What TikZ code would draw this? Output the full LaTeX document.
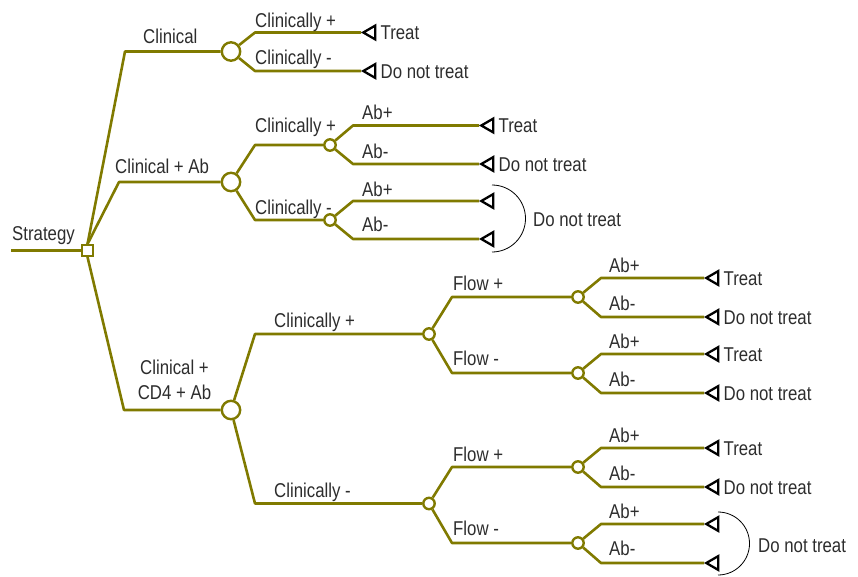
\documentclass[tikz,border=0pt]{standalone}
\usepackage{fontspec}
\setmainfont[FakeStretch=0.84]{Liberation Sans}
\usetikzlibrary{shapes.geometric, positioning}
\definecolor{branchcol}{RGB}{128,122,0}
\definecolor{textcol}{RGB}{45,45,45}
\tikzset{
        branch/.style={draw=branchcol, line width=2.6pt, line join=round},
        decision/.style={rectangle, draw=branchcol, fill=white, line width=2.4pt, minimum size=10.5pt, inner sep=0pt},
        chance/.style={circle, draw=branchcol, fill=white, line width=2.4pt, minimum size=18.4pt, inner sep=0pt},
        smallchance/.style={chance, minimum size=11.4pt},
        terminal/.style={regular polygon, regular polygon sides=3, shape border rotate=90, draw=black, fill=white, line width=2.3pt, line join=miter, minimum size=16pt, inner sep=0pt, anchor=corner 1},
        lbl/.style={text=textcol, inner sep=0pt, anchor=west, text height=14.3pt, text depth=0pt},
        bracket/.style={draw=black, line width=0.8pt},
    }
\begin{document}
\begin{tikzpicture}[x=1pt, y=-1pt, font=\fontsize{20}{25}\selectfont]
        \useasboundingbox (0,0) rectangle (858,576);

        % STRATEGY
        \coordinate (root) at (11,250.5);
        \node[decision] (D) at (87.5,250.5) {};
        \draw[branch] (root) -- (D);
        \node[lbl] (lStrat) at (12,233) {Strategy};

        % Chance nodes of the strategies
        \node[chance] (c1) at (231,51.5) {};
        \node[chance] (c2) at (231,182) {};
        \node[chance] (c3) at (231,410) {};
        \draw[branch] (D.north) -- (125,51.5) -- (c1);
        \draw[branch] (D.north) -- (119,182) -- (c2);
        \draw[branch] (D.south) -- (124,410) -- (c3);
        \node[lbl] (lClin) at (143,36) {Clinical};
        \node[lbl] (lClinAb) at (115,166) {Clinical + Ab};
        \node[text=textcol, align=center, inner sep=0pt] (lClinCD) at (174.5,380) {Clinical +\\CD4 + Ab};

        % CLINICAL
        \node[terminal] (t1a) at (361,32.5) {};
        \node[terminal] (t1b) at (361,71) {};
        \draw[branch] (c1) -- (255,32.5) -- (t1a.corner 1);
        \draw[branch] (c1) -- (255,71) -- (t1b.corner 1);
        \node[lbl] (l1a) at (255,20) {Clinically +};
        \node[lbl] (l1b) at (255,57) {Clinically -};
        \node[lbl, right=4pt of t1a] (x1a) {Treat};
        \node[lbl, right=4pt of t1b] (x1b) {Do not treat};

        % CLINICAL + AB
        \node[smallchance] (s1) at (330,145) {};
        \node[smallchance] (s2) at (330,220) {};
        \draw[branch] (c2) -- (255,145) -- (s1);
        \draw[branch] (c2) -- (255,220) -- (s2);
        \node[lbl] (l2a) at (255,125) {Clinically +};
        \node[lbl] (l2b) at (255,207) {Clinically -};

        \node[terminal] (t2a) at (479,125.5) {};
        \node[terminal] (t2b) at (479,164) {};
        \node[terminal] (t2c) at (479,201) {};
        \node[terminal] (t2d) at (479,239) {};
        \draw[branch] (s1) -- (353,125.5) -- (t2a.corner 1);
        \draw[branch] (s1) -- (353,164) -- (t2b.corner 1);
        \draw[branch] (s2) -- (353,201) -- (t2c.corner 1);
        \draw[branch] (s2) -- (353,239) -- (t2d.corner 1);
        \node[lbl] (a2a) at (362,112) {Ab+};
        \node[lbl] (a2b) at (362,151) {Ab-};
        \node[lbl] (a2c) at (362,189) {Ab+};
        \node[lbl] (a2d) at (362,224) {Ab-};
        \node[lbl, right=4pt of t2a] (x2a) {Treat};
        \node[lbl, right=4pt of t2b] (x2b) {Do not treat};

        % Bracket
        \coordinate (b2top) at (492,185);
        \draw[bracket] (b2top) arc[start angle=90, end angle=-90, radius=33.5pt];
        \node[lbl] (x2c) at (533,219) {Do not treat};

        % CLINICAL + CD4 + AB
        \node[smallchance] (f1) at (429,334) {};
        \node[smallchance] (f2) at (429,503.5) {};
        \draw[branch] (c3) -- (255,334) -- (f1);
        \draw[branch] (c3) -- (255,503.5) -- (f2);
        \node[lbl] (l3a) at (274,320) {Clinically +};
        \node[lbl] (l3b) at (274,490) {Clinically -};

        \node[smallchance] (g1) at (578,297) {};
        \node[smallchance] (g2) at (578,373) {};
        \node[smallchance] (g3) at (578,467) {};
        \node[smallchance] (g4) at (578,543) {};
        \draw[branch] (f1) -- (452,297) -- (g1);
        \draw[branch] (f1) -- (452,373) -- (g2);
        \draw[branch] (f2) -- (452,467) -- (g3);
        \draw[branch] (f2) -- (452,543) -- (g4);
        \node[lbl] (fl1) at (453,283) {Flow +};
        \node[lbl] (fl2) at (453,358) {Flow -};
        \node[lbl] (fl3) at (453,454) {Flow +};
        \node[lbl] (fl4) at (453,528) {Flow -};

        \node[terminal] (t3a) at (704,278) {};
        \node[terminal] (t3b) at (704,317) {};
        \node[terminal] (t3c) at (704,354) {};
        \node[terminal] (t3d) at (704,393) {};
        \node[terminal] (t3e) at (704,448) {};
        \node[terminal] (t3f) at (704,487) {};
        \node[terminal] (t3g) at (704,524) {};
        \node[terminal] (t3h) at (704,563) {};
        \draw[branch] (g1) -- (601,278) -- (t3a.corner 1);
        \draw[branch] (g1) -- (601,317) -- (t3b.corner 1);
        \draw[branch] (g2) -- (601,354) -- (t3c.corner 1);
        \draw[branch] (g2) -- (601,393) -- (t3d.corner 1);
        \draw[branch] (g3) -- (601,448) -- (t3e.corner 1);
        \draw[branch] (g3) -- (601,487) -- (t3f.corner 1);
        \draw[branch] (g4) -- (601,524) -- (t3g.corner 1);
        \draw[branch] (g4) -- (601,563) -- (t3h.corner 1);
        \node[lbl] (a3a) at (609,265) {Ab+};
        \node[lbl] (a3b) at (609,303) {Ab-};
        \node[lbl] (a3c) at (609,341) {Ab+};
        \node[lbl] (a3d) at (609,379) {Ab-};
        \node[lbl] (a3e) at (609,435) {Ab+};
        \node[lbl] (a3f) at (609,473) {Ab-};
        \node[lbl] (a3g) at (609,511) {Ab+};
        \node[lbl] (a3h) at (609,548) {Ab-};
        \node[lbl, right=4pt of t3a] (x3a) {Treat};
        \node[lbl, right=4pt of t3b] (x3b) {Do not treat};
        \node[lbl, right=4pt of t3c] (x3c) {Treat};
        \node[lbl, right=4pt of t3d] (x3d) {Do not treat};
        \node[lbl, right=4pt of t3e] (x3e) {Treat};
        \node[lbl, right=4pt of t3f] (x3f) {Do not treat};

        % Bracket
        \coordinate (b3top) at (718,512);
        \draw[bracket] (b3top) arc[start angle=90, end angle=-90, radius=31.5pt];
        \node[lbl] (x3g) at (758,545) {Do not treat};

    \end{tikzpicture}
\end{document}
